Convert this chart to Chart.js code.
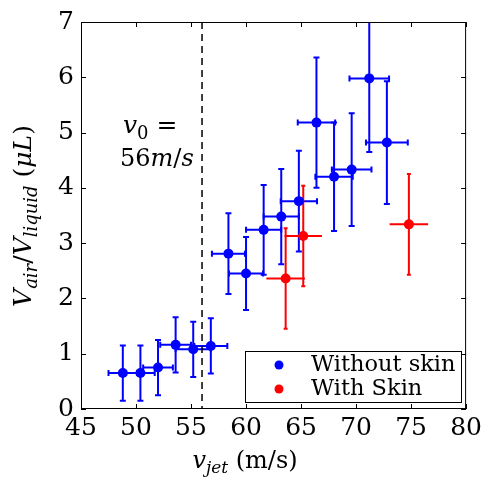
<!DOCTYPE html>
<html>
<head>
<meta charset="utf-8">
<script src="https://cdn.jsdelivr.net/npm/chart.js@4.4.0/dist/chart.umd.min.js"></script>
<style>
html, body { margin: 0; padding: 0; background: #fff; }
</style>
</head>
<body>
<canvas id="chart" width="486" height="479"></canvas>
<script>
// without skin: jet speed (m/s), air/liquid volume (uL) and their errors
const noSkinV      = [48.8, 50.4, 52.0, 53.6, 55.2, 56.8, 58.4, 60.0, 61.6, 63.2, 64.8, 66.4, 68.0, 69.6, 71.2, 72.8]
const noSkinVol    = [0.65, 0.65, 0.75, 1.16, 1.08, 1.14, 2.81, 2.45, 3.24, 3.48, 3.76, 5.18, 4.20, 4.33, 5.98, 4.82]
const noSkinVErr   = [1.3, 1.3, 1.35, 1.4, 1.6, 1.5, 1.5, 1.55, 1.6, 1.6, 1.65, 1.7, 1.7, 1.8, 1.8, 1.9]
const noSkinVolErr = [0.5, 0.5, 0.5, 0.5, 0.5, 0.5, 0.73, 0.66, 0.81, 0.86, 0.91, 1.18, 0.98, 1.02, 1.33, 1.11]

// with skin
const skinV      = [63.6, 65.2, 74.8]
const skinVol    = [2.36, 3.13, 3.34]
const skinVErr   = [1.75, 1.7, 1.75]
const skinVolErr = [0.91, 0.91, 0.91]

const v0 = 56
const xTicks = [45, 50, 55, 60, 65, 70, 75, 80]
const yTicks = [0, 1, 2, 3, 4, 5, 6, 7]

const serif = '"DejaVu Serif", serif'

function points(xs, ys) {
    return xs.map((x, i) => ({ x: x, y: ys[i] }))
}

// draws a run of text parts: {t, it (italic), sub}
function drawMath(ctx, parts, x, y, size, align) {
    const subSize = Math.round(size * 0.7)
    const fontOf = p => (p.it ? 'italic ' : '') + (p.sub ? subSize : size) + 'px ' + serif
    let total = 0
    parts.forEach(p => { ctx.font = fontOf(p); total += ctx.measureText(p.t).width })
    let cx = align === 'center' ? x - total / 2 : x
    ctx.textAlign = 'left'
    ctx.textBaseline = 'alphabetic'
    parts.forEach(p => {
        ctx.font = fontOf(p)
        ctx.fillText(p.t, cx, p.sub ? y + size * 0.22 : y)
        cx += ctx.measureText(p.t).width
    })
}

const errorBars = {
    id: 'errorBars',
    beforeDatasetsDraw(chart) {
        const ctx = chart.ctx, xs = chart.scales.x, ys = chart.scales.y, a = chart.chartArea
        const sets = [
            { x: noSkinV, y: noSkinVol, ex: noSkinVErr, ey: noSkinVolErr, color: '#0000ff', capX: 3, capY: 3 },
            { x: skinV, y: skinVol, ex: skinVErr, ey: skinVolErr, color: '#ff0000', capX: 0, capY: 2 }
        ]
        ctx.save()
        ctx.beginPath()
        ctx.rect(a.left, a.top, a.right - a.left, a.bottom - a.top)
        ctx.clip()
        ctx.lineWidth = 2
        sets.forEach(s => {
            ctx.strokeStyle = s.color
            s.x.forEach((v, i) => {
                const px = xs.getPixelForValue(v), py = ys.getPixelForValue(s.y[i])
                const x1 = xs.getPixelForValue(v - s.ex[i]), x2 = xs.getPixelForValue(v + s.ex[i])
                const y1 = ys.getPixelForValue(s.y[i] - s.ey[i]), y2 = ys.getPixelForValue(s.y[i] + s.ey[i])
                ctx.beginPath()
                ctx.moveTo(x1, py); ctx.lineTo(x2, py)
                ctx.moveTo(px, y1); ctx.lineTo(px, y2)
                if (s.capX) {
                    ctx.moveTo(x1, py - s.capX); ctx.lineTo(x1, py + s.capX)
                    ctx.moveTo(x2, py - s.capX); ctx.lineTo(x2, py + s.capX)
                }
                if (s.capY) {
                    ctx.moveTo(px - s.capY, y1); ctx.lineTo(px + s.capY, y1)
                    ctx.moveTo(px - s.capY, y2); ctx.lineTo(px + s.capY, y2)
                }
                ctx.stroke()
            })
        })
        // threshold line
        const lx = xs.getPixelForValue(v0)
        ctx.strokeStyle = '#000'
        ctx.lineWidth = 1.5
        ctx.setLineDash([7, 5])
        ctx.beginPath()
        ctx.moveTo(lx, a.top); ctx.lineTo(lx, a.bottom)
        ctx.stroke()
        ctx.restore()
    },
    afterDraw(chart) {
        const ctx = chart.ctx, xs = chart.scales.x, ys = chart.scales.y, a = chart.chartArea
        ctx.save()
        // frame and inward ticks
        ctx.strokeStyle = '#000'
        ctx.lineWidth = 1
        ctx.strokeRect(a.left + 0.5, a.top + 0.5, a.right - a.left - 1, a.bottom - a.top - 1)
        ctx.beginPath()
        xTicks.forEach(t => {
            const px = Math.round(xs.getPixelForValue(t)) + 0.5
            ctx.moveTo(px, a.bottom); ctx.lineTo(px, a.bottom - 5)
            ctx.moveTo(px, a.top); ctx.lineTo(px, a.top + 5)
        })
        yTicks.forEach(t => {
            const py = Math.round(ys.getPixelForValue(t)) + 0.5
            ctx.moveTo(a.left, py); ctx.lineTo(a.left + 5, py)
            ctx.moveTo(a.right, py); ctx.lineTo(a.right - 5, py)
        })
        ctx.stroke()

        ctx.fillStyle = '#000'
        // annotation
        drawMath(ctx, [{ t: 'v', it: true }, { t: '0', sub: true }, { t: ' =' }], 123, 133, 25)
        drawMath(ctx, [{ t: '56' }, { t: 'm', it: true }, { t: '/' }, { t: 's', it: true }], 120, 166, 24)

        // x axis title
        drawMath(ctx, [{ t: 'v', it: true }, { t: 'jet', it: true, sub: true }, { t: ' (m/s)' }], 245, 468, 24, 'center')

        // y axis title
        ctx.save()
        ctx.translate(31, 216)
        ctx.rotate(-Math.PI / 2)
        drawMath(ctx, [{ t: 'V', it: true }, { t: 'air', it: true, sub: true }, { t: '/' }, { t: 'V', it: true },
            { t: 'liquid', it: true, sub: true }, { t: ' (' }, { t: 'μL', it: true }, { t: ')' }], 0, 0, 25, 'center')
        ctx.restore()

        // legend
        ctx.fillStyle = '#fff'
        ctx.fillRect(245, 351, 217, 52)
        ctx.strokeRect(245.5, 351.5, 216, 51)
        const items = [['Without skin', '#0000ff', 365], ['With Skin', '#ff0000', 389]]
        items.forEach(it => {
            ctx.fillStyle = it[1]
            ctx.beginPath()
            ctx.arc(279, it[2], 4.5, 0, Math.PI * 2)
            ctx.fill()
            ctx.fillStyle = '#000'
            ctx.font = '22.5px ' + serif
            ctx.textAlign = 'left'
            ctx.textBaseline = 'alphabetic'
            ctx.fillText(it[0], 311, it[2] + 6)
        })
        ctx.restore()
    }
}

new Chart(document.getElementById('chart').getContext('2d'), {
    type: 'scatter',
    data: {
        datasets: [{
            label: 'Without skin',
            data: points(noSkinV, noSkinVol),
            backgroundColor: '#0000ff',
            borderWidth: 0,
            pointRadius: 5
        }, {
            label: 'With Skin',
            data: points(skinV, skinVol),
            backgroundColor: '#ff0000',
            borderWidth: 0,
            pointRadius: 5
        }]
    },
    options: {
        responsive: false,
        animation: false,
        events: [],
        layout: { padding: { top: 22, right: 18, left: 0, bottom: 0 } },
        plugins: { legend: { display: false }, tooltip: { enabled: false } },
        scales: {
            x: {
                type: 'linear', min: 45, max: 80,
                afterBuildTicks: s => { s.ticks = xTicks.map(v => ({ value: v })) },
                afterFit: s => { s.height = 70 },
                ticks: { font: { family: serif, size: 25 }, color: '#000', padding: 4, maxRotation: 0 },
                grid: { display: false, drawTicks: false },
                border: { display: false }
            },
            y: {
                min: 0, max: 7,
                afterBuildTicks: s => { s.ticks = yTicks.map(v => ({ value: v })) },
                afterFit: s => { s.width = 81 },
                ticks: { font: { family: serif, size: 25 }, color: '#000', padding: 7 },
                grid: { display: false, drawTicks: false },
                border: { display: false }
            }
        }
    },
    plugins: [errorBars]
})
</script>
</body>
</html>
